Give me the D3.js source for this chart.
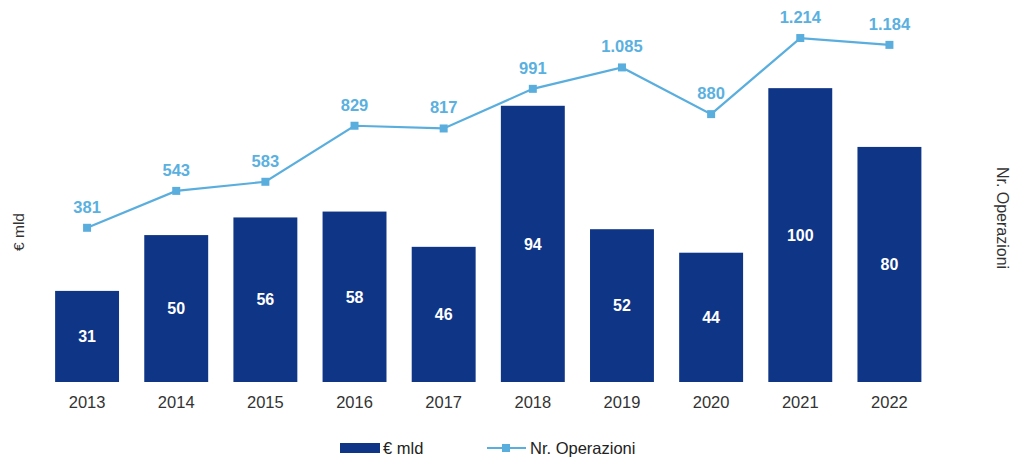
<!DOCTYPE html>
<html>
<head>
<meta charset="utf-8">
<script src="https://cdn.jsdelivr.net/npm/d3@7"></script>
<style>
  html, body { margin: 0; padding: 0; background: #fff; }
  svg { display: block; font-family: "Liberation Sans", Arial, sans-serif; }
</style>
</head>
<body>
<svg id="chart" width="1015" height="459"></svg>
<script>
// Data
const years = ["2013", "2014", "2015", "2016", "2017", "2018", "2019", "2020", "2021", "2022"];
const valoreMld = [31, 50, 56, 58, 46, 94, 52, 44, 100, 80];
const nrOperazioni = [381, 543, 583, 829, 817, 991, 1085, 880, 1214, 1184];
const nrLabels = ["381", "543", "583", "829", "817", "991", "1.085", "880", "1.214", "1.184"];

const barColor = "#0f3587";
const lineColor = "#5aaede";
const labelBlue = "#5ab0df";

const svg = d3.select("#chart");

const x = d3.scaleBand().domain(years).range([42.5, 934]).paddingInner(0.283).paddingOuter(0.1415);
const yBar = d3.scaleLinear().domain([0, 130]).range([382, 0]);
const yLine = d3.scaleLinear().domain([-296, 1381]).range([382, 0]);

// Bars
svg.append("g").selectAll("rect")
  .data(years)
  .join("rect")
  .attr("x", d => x(d))
  .attr("width", x.bandwidth())
  .attr("y", (d, i) => yBar(valoreMld[i]))
  .attr("height", (d, i) => yBar(0) - yBar(valoreMld[i]))
  .attr("fill", barColor);

// Bar value labels
svg.append("g").selectAll("text")
  .data(years)
  .join("text")
  .attr("x", d => x(d) + x.bandwidth() / 2)
  .attr("y", (d, i) => (yBar(valoreMld[i]) + yBar(0)) / 2)
  .attr("dy", "0.36em")
  .attr("text-anchor", "middle")
  .attr("fill", "#fff")
  .attr("font-weight", "bold")
  .attr("font-size", 16)
  .text((d, i) => valoreMld[i]);

// Category axis (labels only)
const xAxis = svg.append("g")
  .attr("transform", "translate(0,382)")
  .call(d3.axisBottom(x).tickSize(0).tickPadding(14));
xAxis.select(".domain").remove();
xAxis.selectAll("text")
  .attr("font-size", 16.5)
  .attr("fill", "#333")
  .attr("font-family", "Liberation Sans, Arial, sans-serif");

// Line series
const cx = d => x(d) + x.bandwidth() / 2;
const line = d3.line()
  .x((d, i) => cx(years[i]))
  .y(d => yLine(d));

svg.append("path")
  .datum(nrOperazioni)
  .attr("d", line)
  .attr("fill", "none")
  .attr("stroke", lineColor)
  .attr("stroke-width", 2.2);

svg.append("g").selectAll("rect")
  .data(nrOperazioni)
  .join("rect")
  .attr("x", (d, i) => cx(years[i]) - 4)
  .attr("y", d => yLine(d) - 4)
  .attr("width", 8)
  .attr("height", 8)
  .attr("fill", lineColor);

svg.append("g").selectAll("text")
  .data(nrOperazioni)
  .join("text")
  .attr("x", (d, i) => cx(years[i]))
  .attr("y", d => yLine(d) - 15)
  .attr("text-anchor", "middle")
  .attr("fill", labelBlue)
  .attr("font-weight", "bold")
  .attr("font-size", 16.5)
  .text((d, i) => nrLabels[i]);

// Axis titles
svg.append("text")
  .attr("transform", "translate(24,232) rotate(-90)")
  .attr("text-anchor", "middle")
  .attr("font-size", 15.5)
  .attr("fill", "#333")
  .text("€ mld");

svg.append("text")
  .attr("transform", "translate(997,218) rotate(90)")
  .attr("text-anchor", "middle")
  .attr("font-size", 16)
  .attr("fill", "#333")
  .text("Nr. Operazioni");

// Legend
const legend = svg.append("g");
legend.append("rect")
  .attr("x", 340).attr("y", 443).attr("width", 40).attr("height", 10)
  .attr("fill", barColor);
legend.append("text")
  .attr("x", 383).attr("y", 448).attr("dy", "0.36em")
  .attr("font-size", 16.5).attr("fill", "#222")
  .text("€ mld");
legend.append("line")
  .attr("x1", 487).attr("x2", 526).attr("y1", 448).attr("y2", 448)
  .attr("stroke", lineColor).attr("stroke-width", 2.2);
legend.append("rect")
  .attr("x", 502).attr("y", 444).attr("width", 8).attr("height", 8)
  .attr("fill", lineColor);
legend.append("text")
  .attr("x", 530).attr("y", 448).attr("dy", "0.36em")
  .attr("font-size", 16.5).attr("fill", "#222")
  .text("Nr. Operazioni");
</script>
</body>
</html>
